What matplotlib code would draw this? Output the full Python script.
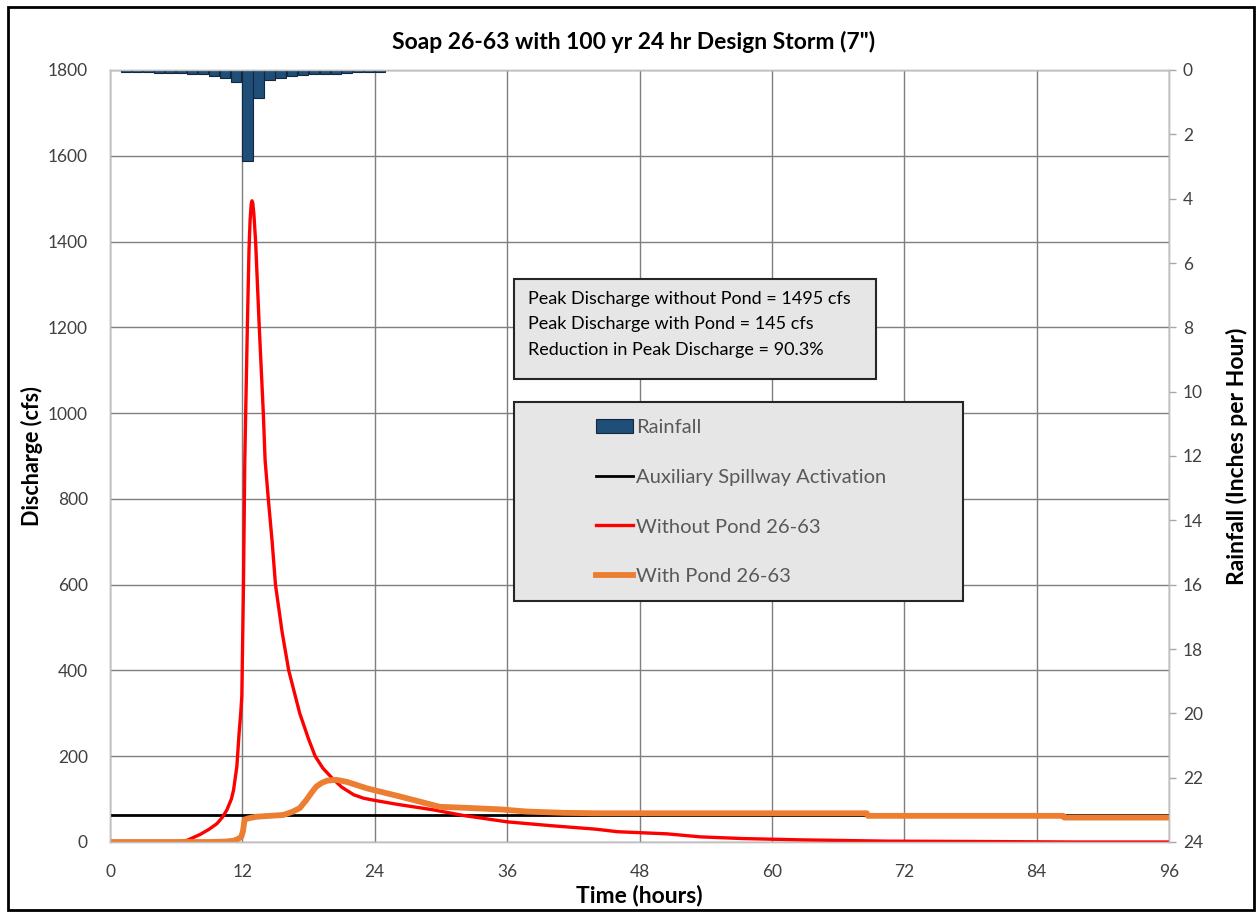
import matplotlib.pyplot as plt
from matplotlib.patches import Rectangle
from matplotlib.lines import Line2D

plt.rcParams['font.family'] = ['Lato', 'DejaVu Sans']

# hourly rainfall (in/hr), hours 1..24
rain_hour = list(range(1, 25))
rain = [0.07, 0.07, 0.07, 0.10, 0.10, 0.10, 0.13, 0.13, 0.20, 0.25, 0.36, 2.83,
        0.88, 0.32, 0.24, 0.18, 0.15, 0.13, 0.13, 0.11, 0.08, 0.07, 0.07, 0.06]

# discharge without pond (cfs)
without_t = [0, 6.0, 7.0, 8.2, 9.0, 9.7, 10.2, 10.6, 11.0, 11.2, 11.5, 11.7, 11.85, 11.95,
             12.1, 12.22, 12.3, 12.45, 12.6, 12.7, 12.8, 12.87, 12.94, 13.04, 13.2,
             13.53, 13.9, 14.06, 14.35, 14.7, 15.0, 15.6, 16.2, 17.2, 18.0, 18.6, 19.3,
             20.1, 21.0, 22.1, 23.0, 24.0, 26.0, 29.3, 32.0, 36.0, 40.0, 44.0, 46.0,
             50.5, 53.5, 57.4, 62.6, 70.4, 80.0, 87.3, 96.0]
without_q = [0, 0, 4, 18, 30, 43, 58, 75, 100, 121, 176, 253, 300, 340,
             600, 890, 1000, 1200, 1380, 1450, 1487, 1495, 1490, 1465, 1400,
             1201, 999, 890, 800, 700, 600, 490, 400, 300, 240, 200, 172,
             150, 128, 110, 102, 97, 88, 75, 62, 47, 38, 30, 24,
             19, 12, 8, 5, 2, 1, 0, 0]

# discharge with pond (cfs)
with_t = [0, 9.0, 10.5, 11.2, 11.6, 11.9, 12.05, 12.2, 12.5, 13.3, 14.5, 15.7, 16.5,
          17.2, 17.8, 18.3, 18.7, 19.2, 19.7, 20.5, 21.5, 23.3, 26.3, 29.9, 32.0,
          35.4, 37.8, 41.1, 44.0, 68.6, 68.7, 86.4, 86.5, 96.0]
with_q = [0, 0, 1, 3, 7, 12, 25, 52, 55, 59, 61, 63, 70,
          79, 98, 116, 129, 138, 143, 145, 140, 125, 106, 82, 80,
          76, 71, 68, 67, 67, 61, 61, 57, 57]

# auxiliary spillway activation level (cfs)
spill_t = [0, 96]
spill_q = [64, 64]

peak_without = 1495
peak_with = 145
reduction = 90.3

tick_col = '#404040'
grid_col = '#7f7f7f'

fig = plt.figure(figsize=(12.59, 9.14), dpi=100)
ax = fig.add_axes([110 / 1259, 1 - 842 / 914, 1059 / 1259, 772 / 914])
ax2 = ax.twinx()

ax.plot(spill_t, spill_q, color='black', lw=2.0, zorder=3)
ax.plot(without_t, without_q, color='#ff0000', lw=2.4, zorder=4)
ax.plot(with_t, with_q, color='#ed7d31', lw=4.2, zorder=5, solid_capstyle='butt')

ax2.bar(rain_hour, rain, width=0.92, align='edge', color='#1f4e79',
        edgecolor='#14283d', lw=0.8)

ax.set_xlim(0, 96)
ax.set_ylim(0, 1800)
ax.set_xticks(range(0, 97, 12))
ax.set_yticks(range(0, 1801, 200))
ax.grid(True, color=grid_col, lw=1.0)
ax.set_axisbelow(True)
ax.tick_params(axis='both', length=0, labelsize=12.5, colors=tick_col)
ax.tick_params(axis='x', pad=16)
ax.tick_params(axis='y', pad=16)

ax2.set_ylim(24, 0)
ax2.set_yticks(range(0, 25, 2))
ax2.tick_params(axis='y', length=5, width=1, color='#a6a6a6', direction='out',
                labelsize=12.5, labelcolor=tick_col, pad=5)

for a in (ax, ax2):
    for s in a.spines.values():
        s.set_color('#bfbfbf')
        s.set_linewidth(1.0)

fig.text(633.5 / 1259, 1 - 42 / 914, 'Soap 26-63 with 100 yr 24 hr Design Storm (7")',
         ha='center', va='center', fontsize=16.5, fontweight='bold')
fig.text(32 / 1259, 1 - 456 / 914, 'Discharge (cfs)', rotation=90,
         ha='center', va='center', fontsize=15.5, fontweight='bold')
fig.text(1237 / 1259, 1 - 456 / 914, 'Rainfall (Inches per Hour)', rotation=90,
         ha='center', va='center', fontsize=16.5, fontweight='bold')
fig.text(639 / 1259, 1 - 895 / 914, 'Time (hours)',
         ha='center', va='center', fontsize=16.5, fontweight='bold')

# summary box
ax2.add_patch(Rectangle((0.3815, 0.5997), 0.3418, 0.1296, transform=ax2.transAxes,
                        facecolor='#e6e6e6', edgecolor='#262626', lw=1.5, zorder=10))
summary = ('Peak Discharge without Pond = %d cfs\n'
           'Peak Discharge with Pond = %d cfs\n'
           'Reduction in Peak Discharge = %.1f%%' % (peak_without, peak_with, reduction))
ax2.text((528 - 110) / 1059, (842 - 291) / 772, summary, transform=ax2.transAxes,
         ha='left', va='top', fontsize=13, linespacing=1.72, zorder=11)

# legend box
ax2.add_patch(Rectangle((0.3815, 0.3122), 0.424, 0.2578, transform=ax2.transAxes,
                        facecolor='#e6e6e6', edgecolor='#262626', lw=1.5, zorder=10))
handles = [
    Rectangle((0, 0), 1, 1, facecolor='#1f4e79', edgecolor='#14283d', lw=0.8),
    Line2D([], [], color='black', lw=2.0),
    Line2D([], [], color='#ff0000', lw=2.4),
    Line2D([], [], color='#ed7d31', lw=4.2),
]
labels = ['Rainfall', 'Auxiliary Spillway Activation', 'Without Pond 26-63', 'With Pond 26-63']
leg = ax2.legend(handles, labels, loc='upper left',
                 bbox_to_anchor=((596 - 110) / 1059, (842 - 419) / 772),
                 frameon=False, fontsize=14.5, borderpad=0, borderaxespad=0,
                 handlelength=1.85, handletextpad=0.12, labelspacing=1.62)
leg.set_zorder(12)
for t in leg.get_texts():
    t.set_color('#595959')

# chart border
fig.add_artist(Rectangle((8 / 1259, 1 - 910 / 914), 1246 / 1259, 903 / 914,
                         transform=fig.transFigure, fill=False, edgecolor='black', lw=2.0))

fig.savefig('out.png', dpi=100)
